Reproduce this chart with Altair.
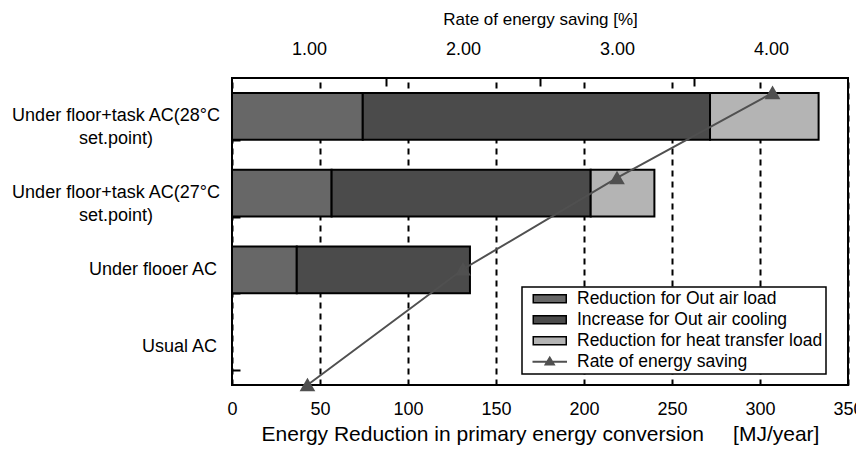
import altair as alt
import pandas as pd

# ---- data ----
categories = [
    "Under floor+task AC(28°C\nset.point)",
    "Under floor+task AC(27°C\nset.point)",
    "Under flooer AC",
    "Usual AC",
]
series = [
    "Reduction for Out air load",
    "Increase for Out air cooling",
    "Reduction for heat transfer load",
    "Rate of energy saving",
]
out_air_load = [74.3, 56.6, 36.8, 0.0]          # MJ/year
out_air_cooling = [197.3, 147.2, 98.4, 0.0]     # MJ/year
heat_transfer_load = [61.7, 36.2, 0.0, 0.0]     # MJ/year
rate_axis_pos = [4.01, 3.0, 2.0, 0.99]          # position on top axis
rate_curve_value = [333, 236, 132, 0]           # hidden vertical axis
energy_ticks = [0, 50, 100, 150, 200, 250, 300, 350]
rate_ticks = [1.0, 2.0, 3.0, 4.0]
rate_minor_ticks = [1.5, 2.5, 3.5]

LINE_COLOR = "#505050"
fill_colors = ["#676767", "#4b4b4b", "#b4b4b4", LINE_COLOR]
stroke_colors = ["black", "black", "black", LINE_COLOR]
rect_sym = "M-4.1,-0.8L2.5,-0.8L2.5,0.8L-4.1,0.8Z"
line_sym = "M-4.1,-0.06L2.5,-0.06L2.5,0.06L-4.1,0.06Z M-1.7,0.6L-0.8,-0.9L0.1,0.6Z"
shape_range = [rect_sym, rect_sym, rect_sym, line_sym]

FONT = "Liberation Sans"

# ---- tables ----
rows = []
for i, c in enumerate(categories):
    for k, (s, vals) in enumerate(zip(series[:3], [out_air_load, out_air_cooling, heat_transfer_load])):
        rows.append({"category": c, "series": s, "value": vals[i], "order": k})
bar_df = pd.DataFrame(rows)

label_df = pd.DataFrame({"category": categories, "multi": ["\n" in c for c in categories]})

line_df = pd.DataFrame({
    "category": categories,
    "pos": rate_axis_pos,
    "value": rate_curve_value,
    "series": [series[3]] * len(categories),
})

fill_scale = alt.Scale(domain=series, range=fill_colors)
stroke_scale = alt.Scale(domain=series, range=stroke_colors)
shape_scale = alt.Scale(domain=series, range=shape_range)
leg = dict(title=None, orient="none", legendX=290, legendY=209, direction="vertical",
           labelExpr="datum.label + '\u00a0\u00a0\u00a0'")

y_band = alt.Scale(domain=categories, paddingInner=0.39, paddingOuter=0.195)

bars = alt.Chart(bar_df).transform_filter("datum.value > 0").mark_bar(strokeWidth=2).encode(
    x=alt.X(
        "value:Q", stack="zero",
        scale=alt.Scale(domain=[0, 350], nice=False),
        axis=alt.Axis(
            orient="bottom", values=energy_ticks, format="d",
            title="Energy Reduction in primary energy conversion" + "\u00a0" * 5 + "[MJ/year]",
            titleFontSize=21,
            grid=True, gridDash=[6, 5], gridColor="black", gridWidth=2, gridOpacity=1,
            ticks=False, domain=False, labelFlush=False, labelPadding=15, titlePadding=5,
        ),
    ),
    y=alt.Y(
        "category:N", scale=y_band,
        axis=alt.Axis(
            title=None, labels=False, domain=False, grid=False, ticks=True,
            tickBand="extent", tickSize=8, tickWidth=2, tickColor="black", offset=-8,
        ),
    ),
    fill=alt.Fill("series:N", scale=fill_scale, legend=alt.Legend(**leg)),
    stroke=alt.Stroke("series:N", scale=stroke_scale, legend=alt.Legend(**leg)),
    order=alt.Order("order:Q"),
)

two_line = alt.Chart(label_df).transform_filter("datum.multi").mark_text(
    align="center", baseline="middle", lineBreak="\n", lineHeight=23,
    fontSize=18, font=FONT, color="black",
).encode(
    x=alt.value(-116),
    y=alt.Y("category:N", scale=y_band, axis=None),
    text="category:N",
)

one_line = alt.Chart(label_df).transform_filter("!datum.multi").mark_text(
    align="right", baseline="middle", fontSize=18, font=FONT, color="black",
).encode(
    x=alt.value(-15),
    y=alt.Y("category:N", scale=y_band, axis=None),
    text="category:N",
)

line = alt.Chart(line_df).mark_line(
    strokeWidth=2,
    point=alt.OverlayMarkDef(shape="triangle-up", size=150, filled=True, fill=LINE_COLOR, opacity=1),
).encode(
    x=alt.X(
        "pos:Q", scale=alt.Scale(domain=[0.5, 4.5], nice=False, zero=False),
        axis=alt.Axis(
            orient="top", values=rate_ticks, format=".2f", title="Rate of energy saving [%]",
            titleFontSize=17,
            ticks=False, domain=False, grid=False, labelFlush=False, labelPadding=20, titlePadding=12,
        ),
    ),
    y=alt.Y("value:Q", scale=alt.Scale(domain=[0, 350], nice=False), axis=None),
    stroke=alt.Stroke("series:N", scale=stroke_scale, legend=alt.Legend(**leg)),
)

helper = alt.Chart(pd.DataFrame({"series": series})).transform_filter("false").mark_point(
    filled=True, opacity=1
).encode(
    x=alt.X(
        "tick:Q", scale=alt.Scale(domain=[0.5, 4.5], nice=False, zero=False),
        axis=alt.Axis(
            orient="top", values=rate_minor_ticks, labels=False, domain=False, grid=False,
            title=None, ticks=True, tickSize=8, tickWidth=2, tickColor="black", offset=-8,
        ),
    ),
    fill=alt.Fill("series:N", scale=fill_scale, legend=alt.Legend(**leg)),
    stroke=alt.Stroke("series:N", scale=stroke_scale, legend=alt.Legend(**leg)),
    shape=alt.Shape("series:N", scale=shape_scale, legend=alt.Legend(**leg)),
)

chart = alt.layer(bars, two_line, one_line, line, helper).resolve_scale(
    x="independent", y="independent"
).properties(
    width=616, height=307,
    padding={"left": 224, "top": 70, "right": 8, "bottom": 62},
    autosize=alt.AutoSizeParams(type="none"),
).configure_view(
    stroke="black", strokeWidth=2
).configure_axis(
    labelFont=FONT, titleFont=FONT, labelFontSize=18,
    labelColor="black", titleColor="black", titleFontWeight="normal",
).configure_legend(
    labelFont=FONT, labelFontSize=17.5, labelColor="black", labelLimit=400,
    symbolSize=100, symbolStrokeWidth=1.5, symbolOffset=20, labelOffset=14.5,
    rowPadding=2, padding=3, strokeColor="black", fillColor="white", strokeWidth=1.5,
)

chart.save("out.html", embed_options={"renderer": "svg", "actions": False})
